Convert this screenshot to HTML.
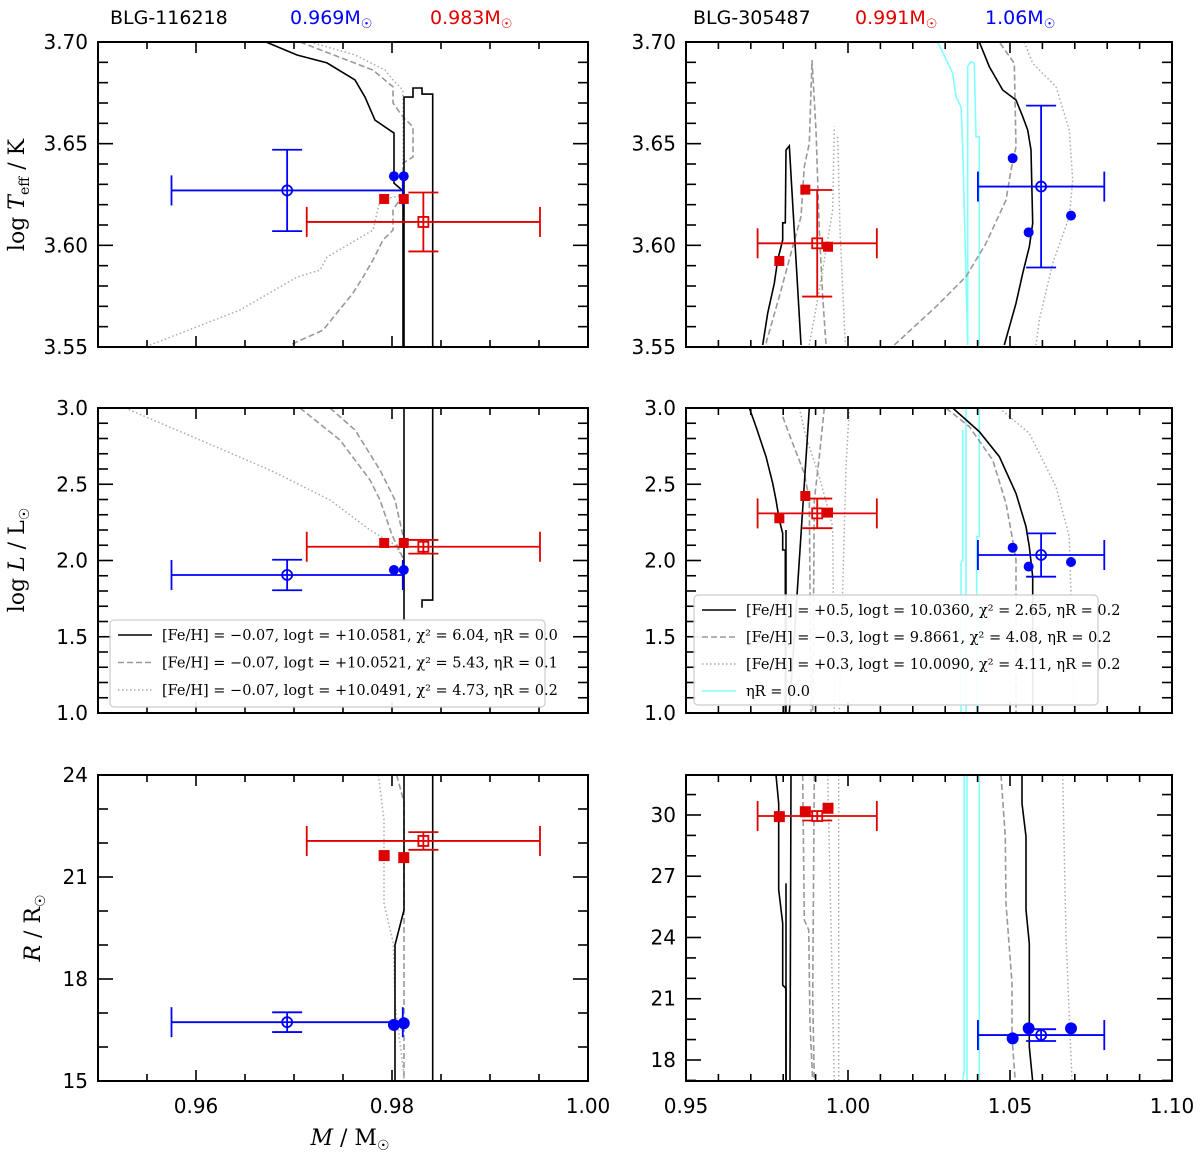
<!DOCTYPE html>
<html><head><meta charset="utf-8"><style>
body{margin:0;background:#fff;}
svg{display:block;}
text{font-family:"DejaVu Sans","Liberation Sans",sans-serif;}
.serif{font-family:"DejaVu Serif","Liberation Serif",serif;}
</style></head><body>
<svg id="fig" width="1200" height="1155" viewBox="0 0 1200 1155" xmlns="http://www.w3.org/2000/svg">
<g>
<text x="110" y="24" font-size="19" fill="#000">BLG-116218</text>
<text x="290" y="24" font-size="19" fill="#0000ff">0.969M<tspan font-size="13" dy="4">☉</tspan></text>
<text x="430" y="24" font-size="19" fill="#e00000">0.983M<tspan font-size="13" dy="4">☉</tspan></text>
<text x="693" y="24" font-size="19" fill="#000">BLG-305487</text>
<text x="855" y="24" font-size="19" fill="#e00000">0.991M<tspan font-size="13" dy="4">☉</tspan></text>
<text x="985" y="24" font-size="19" fill="#0000ff">1.06M<tspan font-size="13" dy="4">☉</tspan></text>
</g>
<g class="serif">
<text class="serif" transform="translate(24,195) rotate(-90)" text-anchor="middle" font-size="22">log <tspan font-style="italic">T</tspan><tspan font-size="14" dy="5">eff</tspan><tspan dy="-5"> / K</tspan></text>
<text class="serif" transform="translate(24,560) rotate(-90)" text-anchor="middle" font-size="22">log <tspan font-style="italic">L</tspan> /  L<tspan font-size="14" dy="5">☉</tspan></text>
<text class="serif" transform="translate(40,928) rotate(-90)" text-anchor="middle" font-size="22"><tspan font-style="italic">R</tspan> /  R<tspan font-size="14" dy="5">☉</tspan></text>
<text class="serif" x="350" y="1145" text-anchor="middle" font-size="22"><tspan font-style="italic">M</tspan> / M<tspan font-size="14" dy="5">☉</tspan></text>
</g>
</svg>
<script>
// ===== Data (mass in Msun; values in axis units) =====
const tlSolid1=[[0.96714,3.700],[0.97031,3.6936],[0.97337,3.6897],[0.97622,3.6813],[0.97724,3.6729],[0.97827,3.6616],[0.98020,3.6552],[0.98020,3.6306],[0.98112,3.6267],[0.98112,3.55]];
const tlSolid2=[[0.98122,3.55],[0.98122,3.6729],[0.98214,3.6729],[0.98214,3.6774],[0.98306,3.6774],[0.98306,3.6744],[0.98415,3.6744],[0.98415,3.55]];
const tlDash=[[0.97061,3.70],[0.97806,3.6862],[0.98010,3.6779],[0.98010,3.67],[0.98112,3.6631],[0.98214,3.6582],[0.98214,3.6434],[0.98112,3.6405],[0.98112,3.625],[0.98010,3.6174],[0.98010,3.6075],[0.97908,3.6026],[0.97806,3.5928],[0.97704,3.5844],[0.97602,3.5765],[0.97296,3.5583],[0.96959,3.551]];
const tlDot=[[0.97163,3.70],[0.97622,3.6936],[0.97929,3.6862],[0.98010,3.6813],[0.98112,3.6764],[0.98112,3.6247],[0.97878,3.6223],[0.97806,3.6075],[0.97337,3.5942],[0.97265,3.5878],[0.97031,3.5844],[0.96449,3.5682],[0.95531,3.551]];
const tlBlueObs=[0.9693,0.0118,3.627,0.020];
const tlRedObs=[0.9832,0.0119,3.6115,0.0145];
const tlBlueDots=[[0.9802,3.634],[0.9812,3.634]];
const tlRedSquares=[[0.9792,3.6228],[0.9812,3.6228]];

const mlSolid1=[[0.98122,3.0],[0.98122,1.60]];
const mlSolid2=[[0.98415,3.0],[0.98415,1.74],[0.98306,1.74],[0.98306,1.69]];
const mlDash1=[[0.97061,3.0],[0.97469,2.79],[0.97776,2.528],[0.97878,2.397],[0.98,2.167],[0.98122,2.003]];
const mlDash2=[[0.97367,3.0],[0.97622,2.856],[0.97878,2.593],[0.98031,2.397],[0.98122,2.134]];
const mlDot=[[0.95276,3.0],[0.96041,2.79],[0.96755,2.593],[0.97367,2.397],[0.97776,2.2],[0.98031,2.102],[0.98122,2.003]];
const mlBlueObs=[0.9693,0.0118,1.905,0.10];
const mlRedObs=[0.9832,0.0119,2.09,0.045];
const mlBlueDots=[[0.9802,1.938],[0.9812,1.938]];
const mlRedSquares=[[0.9792,2.115],[0.9812,2.115]];

const blSolid1=[[0.98415,15],[0.98415,24]];
const blSolid2=[[0.98122,24],[0.98122,20.03],[0.98031,19.0],[0.98031,15]];
const blDash=[[0.98048,24],[0.98122,23.2],[0.98122,15]];
const blDot=[[0.97861,24],[0.97918,22.68],[0.97918,20.22],[0.98013,19.05],[0.98031,17.29],[0.98116,15.32],[0.98122,15]];
const blBlueObs=[0.9693,0.0118,16.73,0.29];
const blRedObs=[0.9832,0.0119,22.06,0.26];
const blBlueDots=[[0.9802,16.65],[0.9812,16.70]];
const blRedSquares=[[0.9792,21.63],[0.9812,21.57]];

const trSolid1=[[0.97366,3.551],[0.97521,3.5666],[0.97726,3.5813],[0.97829,3.5928],[0.97984,3.6026],[0.97984,3.6111],[0.98066,3.6111],[0.98086,3.6469],[0.98189,3.6489],[0.98549,3.551]];
const trSolid2=[[1.04053,3.70],[1.04362,3.6879],[1.04774,3.6764],[1.05185,3.6715],[1.05391,3.6633],[1.05545,3.6567],[1.05648,3.6469],[1.05700,3.6108],[1.05597,3.5993],[1.05391,3.5862],[1.05185,3.5715],[1.04825,3.551]];
const trDash1=[[0.97469,3.5518],[0.97881,3.5748],[0.98292,3.5993],[0.98549,3.6141],[0.98652,3.6387],[0.98807,3.6502],[0.98889,3.6911],[0.99012,3.6567],[0.99115,3.6075],[0.99218,3.5748],[0.99321,3.551]];
const trDash2=[[1.0143,3.551],[1.02716,3.5698],[1.03642,3.5846],[1.04259,3.601],[1.04877,3.6223],[1.05031,3.637],[1.05185,3.6485],[1.05134,3.6895],[1.04671,3.70]];
const trDot1=[[0.98807,3.551],[0.99115,3.578],[0.99527,3.6174],[0.99578,3.6584]];
const trDot2=[[0.99681,3.6534],[0.99753,3.6075],[0.99918,3.551]];
const trDot3=[[1.05442,3.70],[1.05700,3.6895],[1.0642,3.678],[1.06831,3.6567],[1.06934,3.6321],[1.06831,3.6141],[1.06317,3.5911],[1.05905,3.5633],[1.05802,3.551]];
const trCyan1=[[1.02767,3.70],[1.0323,3.6846],[1.03333,3.6731],[1.03488,3.6682],[1.03539,3.6485],[1.03642,3.5846],[1.03693,3.551]];
const trCyan2=[[1.03693,3.551],[1.03693,3.6879],[1.03796,3.6903],[1.03899,3.6895],[1.0395,3.6534],[1.04053,3.6534],[1.04053,3.551]];
const trBlueObs=[1.0596,0.0195,3.6289,0.0398];
const trRedObs=[0.9905,0.0184,3.601,0.0262];
const trBlueDots=[[1.05082,3.6428],[1.05576,3.6064],[1.06883,3.6146]];
const trRedSquares=[[0.97881,3.5923],[0.98683,3.6274],[0.99383,3.5993]];

const mrSolid1=[[0.96955,3.0],[0.9716,2.878],[0.97469,2.681],[0.97675,2.506],[0.97778,2.397],[0.97881,2.266],[0.97984,2.178],[0.97984,2.069],[0.98066,2.069],[0.98066,1.0]];
const mrSolid2=[[0.98807,3.0],[0.98189,1.0]];
const mrSolid3=[[0.98086,2.20],[0.98086,1.0]];
const mrSolid4=[[1.0323,3.0],[1.04053,2.845],[1.04671,2.681],[1.05185,2.440],[1.05494,2.222],[1.05597,2.091],[1.057,1.894],[1.057,1.0]];
const mrDash1=[[0.97984,2.943],[0.98292,2.768],[0.98652,2.572],[0.98807,2.397],[0.98858,1.0]];
const mrDash2=[[0.9927,3.0],[0.99115,2.68],[0.98961,2.397],[0.98909,1.0]];
const mrDash3=[[1.03025,3.0],[1.03745,2.878],[1.04465,2.659],[1.04877,2.375],[1.05082,2.134],[1.05185,2.003],[1.05185,1.0]];
const mrDot1=[[0.98498,3.0],[0.98704,2.812],[0.99115,2.55],[0.99527,2.222],[0.99578,1.0]];
const mrDot2=[[1.00041,3.0],[0.99938,2.615],[0.99733,1.0]];
const mrDot3=[[1.04671,3.0],[1.05597,2.834],[1.0642,2.484],[1.06831,2.156],[1.06986,1.0]];
const mrCyan1=[[1.03642,3.0],[1.03642,1.0]];
const mrCyan2=[[1.03539,2.856],[1.03539,2.003],[1.03488,1.981],[1.03488,1.0]];
const mrCyan3=[[1.04053,3.0],[1.04053,2.156],[1.03971,2.156],[1.03971,1.0]];
const mrBlueObs=[1.0596,0.0195,2.036,0.142];
const mrRedObs=[0.9905,0.0184,2.309,0.097];
const mrBlueDots=[[1.05082,2.084],[1.05576,1.960],[1.06883,1.990]];
const mrRedSquares=[[0.97881,2.277],[0.98683,2.423],[0.99383,2.314]];

const brSolid1=[[0.97778,31.96],[0.9786,30.57],[0.9786,26.33],[0.97984,24.69],[0.97984,21.67],[0.98086,21.51],[0.98086,16.94]];
const brSolid2=[[0.98086,26.65],[0.98086,16.94]];
const brSolid3=[[0.98241,31.96],[0.9821,16.94]];
const brSolid4=[[1.0537,31.96],[1.0537,30.57],[1.05494,28.94],[1.05494,25.35],[1.05597,23.71],[1.05597,18.65],[1.057,16.94]];
const brDash1=[[0.98601,31.96],[0.98652,24.86],[0.98786,24.37],[0.98827,19.8],[0.98909,16.94]];
const brDash2=[[0.98961,31.96],[0.98909,21.1],[0.98961,16.94]];
const brDash3=[[1.04722,31.96],[1.04856,28.94],[1.04877,25.67],[1.05062,21.76],[1.05062,19.14],[1.05165,16.94]];
const brDot1=[[0.99372,31.96],[0.99475,24.53],[0.99578,16.94]];
const brDot2=[[0.99712,31.96],[0.99712,16.94]];
const brDot3=[[1.06626,31.96],[1.06728,24.04],[1.06914,16.94]];
const brCyan1=[[1.0359,31.96],[1.0359,17.51],[1.03539,16.94]];
const brCyan2=[[1.03673,31.96],[1.03673,16.94]];
const brCyan3=[[1.04053,31.96],[1.04053,16.94]];
const brBlueObs=[1.0596,0.0195,19.22,0.29];
const brRedObs=[0.9905,0.0184,29.95,0.22];
const brBlueDots=[[1.05082,19.06],[1.05576,19.55],[1.06883,19.55]];
const brRedSquares=[[0.97881,29.92],[0.98683,30.16],[0.99383,30.33]];

const leftXTicks=[0.96,0.98,1.00];
const leftXTickLabels=["0.96","0.98","1.00"];
const rightXTicks=[0.95,1.00,1.05,1.10];
const rightXTickLabels=["0.95","1.00","1.05","1.10"];
const teffTicks=[3.55,3.60,3.65,3.70];
const teffTickLabels=["3.55","3.60","3.65","3.70"];
const lumTicks=[1.0,1.5,2.0,2.5,3.0];
const lumTickLabels=["1.0","1.5","2.0","2.5","3.0"];
const radLeftTicks=[15,18,21,24];
const radLeftTickLabels=["15","18","21","24"];
const radRightTicks=[18,21,24,27,30];
const radRightTickLabels=["18","21","24","27","30"];

const leftLegendLabels=["[Fe/H] = \u22120.07, log\u200at = +10.0581, \u03c7\u00b2 = 6.04, \u03b7R = 0.0","[Fe/H] = \u22120.07, log\u200at = +10.0521, \u03c7\u00b2 = 5.43, \u03b7R = 0.1","[Fe/H] = \u22120.07, log\u200at = +10.0491, \u03c7\u00b2 = 4.73, \u03b7R = 0.2"];
const rightLegendLabels=["[Fe/H] = +0.5, log\u200at = 10.0360, \u03c7\u00b2 = 2.65, \u03b7R = 0.2","[Fe/H] = \u22120.3, log\u200at =  9.8661, \u03c7\u00b2 = 4.08, \u03b7R = 0.2","[Fe/H] = +0.3, log\u200at = 10.0090, \u03c7\u00b2 = 4.11, \u03b7R = 0.2","\u03b7R = 0.0"];

// ===== Rendering =====
const NS="http://www.w3.org/2000/svg";
const svg=document.getElementById('fig');
function mk(tag,attrs,parent){const e=document.createElementNS(NS,tag);for(const k in attrs)e.setAttribute(k,attrs[k]);(parent||svg).appendChild(e);return e;}
const STY={
 solid:{stroke:'#000','stroke-width':1.6},
 dash:{stroke:'#999','stroke-width':1.6,'stroke-dasharray':'6,3'},
 dot:{stroke:'#aaa','stroke-width':1.5,'stroke-dasharray':'1.5,2.5'},
 cyan:{stroke:'#80ffff','stroke-width':1.6}
};
let clipN=0;
function panel(name,box,xd,yd,opts){
 const g=mk('g',{});
 
 
 const X=v=>box.x0+(v-xd[0])/(xd[1]-xd[0])*(box.x1-box.x0);
 const Y=v=>box.y1-(v-yd[0])/(yd[1]-yd[0])*(box.y1-box.y0);
 const cid='clip'+(clipN++);
 const cp=mk('clipPath',{id:cid},g);
 mk('rect',{x:box.x0,y:box.y0,width:box.x1-box.x0,height:box.y1-box.y0},cp);
 const plot=mk('g',{'clip-path':'url(#'+cid+')'},g);
 
 
 // tracks
 opts.tracks.forEach(t=>{
  const p=mk('polyline',Object.assign({points:t.d.map(q=>X(q[0]).toFixed(1)+','+Y(q[1]).toFixed(1)).join(' '),fill:'none'},STY[t.s]),plot);
  
  
 });
 // observation error bars
 function obs(o,col,shape,label){
  const og=mk('g',{stroke:col,'stroke-width':1.8,fill:'none'},plot);
  
  
  const cx=X(o[0]),cy=Y(o[2]),xl=X(o[0]-o[1]),xr=X(o[0]+o[1]),yt=Y(o[2]+o[3]),yb=Y(o[2]-o[3]);
  mk('line',{x1:xl,y1:cy,x2:xr,y2:cy},og);
  mk('line',{x1:cx,y1:yt,x2:cx,y2:yb},og);
  mk('line',{x1:xl,y1:cy-15,x2:xl,y2:cy+15},og);
  mk('line',{x1:xr,y1:cy-15,x2:xr,y2:cy+15},og);
  mk('line',{x1:cx-15,y1:yt,x2:cx+15,y2:yt},og);
  mk('line',{x1:cx-15,y1:yb,x2:cx+15,y2:yb},og);
  if(shape==='circle'){mk('circle',{cx:cx,cy:cy,r:5,fill:'#fff'},og);}
  else{mk('rect',{x:cx-5,y:cy-5,width:10,height:10,fill:'#fff'},og);}
  mk('line',{x1:cx-5,y1:cy,x2:cx+5,y2:cy},og);
  mk('line',{x1:cx,y1:cy-5,x2:cx,y2:cy+5},og);
 }
 obs(opts.blueObs,'#0000ff','circle','blue-observation');
 obs(opts.redObs,'#e00000','square','red-observation');
 const ms=opts.big?11:10, mr=opts.big?6:5;
 opts.redSq.forEach(p=>{
  const r=mk('rect',{x:X(p[0])-ms/2,y:Y(p[1])-ms/2,width:ms,height:ms,fill:'#dd0000'},plot);
  
  
 });
 opts.blueDots.forEach(p=>{
  const c=mk('circle',{cx:X(p[0]),cy:Y(p[1]),r:mr,fill:'#0000ff'},plot);
  
  
 });
 // ticks
 const tg=mk('g',{stroke:'#000','stroke-width':1.6},g);
 
 
 const eps=1e-9;
 for(let v=Math.ceil(xd[0]/opts.xMinor-eps)*opts.xMinor;v<=xd[1]+eps;v+=opts.xMinor){
  const isMaj=Math.abs(v/opts.xMajor-Math.round(v/opts.xMajor))<1e-6;const L=isMaj?11:7;const x=X(v);
  mk('line',{x1:x,y1:box.y1,x2:x,y2:box.y1-L},tg);mk('line',{x1:x,y1:box.y0,x2:x,y2:box.y0+L},tg);
 }
 for(let v=Math.ceil(yd[0]/opts.yMinor-eps)*opts.yMinor;v<=yd[1]+eps;v+=opts.yMinor){
  const isMaj=Math.abs(v/opts.yMajor-Math.round(v/opts.yMajor))<1e-6;const L=isMaj?15:10;const y=Y(v);
  mk('line',{x1:box.x0,y1:y,x2:box.x0+L,y2:y},tg);mk('line',{x1:box.x1,y1:y,x2:box.x1-L,y2:y},tg);
 }
 // frame
 const fr=mk('rect',{x:box.x0,y:box.y0,width:box.x1-box.x0,height:box.y1-box.y0,fill:'none',stroke:'#000','stroke-width':2},g);
 
 
 // tick labels
 opts.yTicks.forEach((v,i)=>{
  const t=mk('text',{x:box.x0-10,y:Y(v)+7,'text-anchor':'end','font-size':20},g);
  t.textContent=opts.yLabels[i];
  
  
 });
 if(opts.xTicks){opts.xTicks.forEach((v,i)=>{
  const t=mk('text',{x:X(v),y:box.y1+32,'text-anchor':'middle','font-size':20},g);
  t.textContent=opts.xLabels[i];
  
  
 });}
 // legend
 if(opts.legend){
  const L=opts.legend;
  const lg=mk('g',{},g);
  
  
  mk('rect',{x:L.x,y:L.y,width:L.w,height:L.h,rx:4,fill:'#fff','fill-opacity':0.92,stroke:'#ccc','stroke-width':1.2},lg);
  L.labels.forEach((s,i)=>{
   const yy=L.y+15+i*L.step;
   const ln=mk('line',Object.assign({x1:L.x+8,y1:yy,x2:L.x+42,y2:yy},STY[L.styles[i]]),lg);
   
   
   const t=mk('text',{x:L.x+52,y:yy+5,'font-size':14.5,'class':'serif'},lg);
   t.textContent=s;
   
   
  });
 }
}
const LB={x0:98,x1:588}, RB={x0:686,x1:1172};
const R1={y0:42,y1:347},R2={y0:408,y1:713},R3={y0:775,y1:1081};
panel('panel-top-left',{...LB,...R1},[0.95,1.00],[3.55,3.70],{tracks:[{d:tlDot,s:'dot'},{d:tlDash,s:'dash'},{d:tlSolid1,s:'solid'},{d:tlSolid2,s:'solid'}],blueObs:tlBlueObs,redObs:tlRedObs,blueDots:tlBlueDots,redSq:tlRedSquares,xMinor:0.005,xMajor:0.02,yMinor:0.01,yMajor:0.05,yTicks:teffTicks,yLabels:teffTickLabels});
panel('panel-mid-left',{...LB,...R2},[0.95,1.00],[1.0,3.0],{tracks:[{d:mlDot,s:'dot'},{d:mlDash1,s:'dash'},{d:mlDash2,s:'dash'},{d:mlSolid1,s:'solid'},{d:mlSolid2,s:'solid'}],blueObs:mlBlueObs,redObs:mlRedObs,blueDots:mlBlueDots,redSq:mlRedSquares,xMinor:0.005,xMajor:0.02,yMinor:0.1,yMajor:0.5,yTicks:lumTicks,yLabels:lumTickLabels,legend:{x:110,y:620,w:435,h:87,step:27.5,labels:leftLegendLabels,styles:['solid','dash','dot']}});
panel('panel-bottom-left',{...LB,...R3},[0.95,1.00],[15,24],{tracks:[{d:blDot,s:'dot'},{d:blDash,s:'dash'},{d:blSolid1,s:'solid'},{d:blSolid2,s:'solid'}],blueObs:blBlueObs,redObs:blRedObs,blueDots:blBlueDots,redSq:blRedSquares,big:true,xMinor:0.005,xMajor:0.02,yMinor:1,yMajor:3,yTicks:radLeftTicks,yLabels:radLeftTickLabels,xTicks:leftXTicks,xLabels:leftXTickLabels});
panel('panel-top-right',{...RB,...R1},[0.95,1.10],[3.55,3.70],{tracks:[{d:trCyan1,s:'cyan'},{d:trCyan2,s:'cyan'},{d:trDot1,s:'dot'},{d:trDot2,s:'dot'},{d:trDot3,s:'dot'},{d:trDash1,s:'dash'},{d:trDash2,s:'dash'},{d:trSolid1,s:'solid'},{d:trSolid2,s:'solid'}],blueObs:trBlueObs,redObs:trRedObs,blueDots:trBlueDots,redSq:trRedSquares,xMinor:0.01,xMajor:0.05,yMinor:0.01,yMajor:0.05,yTicks:teffTicks,yLabels:teffTickLabels});
panel('panel-mid-right',{...RB,...R2},[0.95,1.10],[1.0,3.0],{tracks:[{d:mrCyan1,s:'cyan'},{d:mrCyan2,s:'cyan'},{d:mrCyan3,s:'cyan'},{d:mrDot1,s:'dot'},{d:mrDot2,s:'dot'},{d:mrDot3,s:'dot'},{d:mrDash1,s:'dash'},{d:mrDash2,s:'dash'},{d:mrDash3,s:'dash'},{d:mrSolid1,s:'solid'},{d:mrSolid2,s:'solid'},{d:mrSolid3,s:'solid'},{d:mrSolid4,s:'solid'}],blueObs:mrBlueObs,redObs:mrRedObs,blueDots:mrBlueDots,redSq:mrRedSquares,xMinor:0.01,xMajor:0.05,yMinor:0.1,yMajor:0.5,yTicks:lumTicks,yLabels:lumTickLabels,legend:{x:694,y:595,w:404,h:110,step:27,labels:rightLegendLabels,styles:['solid','dash','dot','cyan']}});
panel('panel-bottom-right',{...RB,...R3},[0.95,1.10],[16.971,31.959],{tracks:[{d:brCyan1,s:'cyan'},{d:brCyan2,s:'cyan'},{d:brCyan3,s:'cyan'},{d:brDot1,s:'dot'},{d:brDot2,s:'dot'},{d:brDot3,s:'dot'},{d:brDash1,s:'dash'},{d:brDash2,s:'dash'},{d:brDash3,s:'dash'},{d:brSolid1,s:'solid'},{d:brSolid2,s:'solid'},{d:brSolid3,s:'solid'},{d:brSolid4,s:'solid'}],blueObs:brBlueObs,redObs:brRedObs,blueDots:brBlueDots,redSq:brRedSquares,big:true,xMinor:0.01,xMajor:0.05,yMinor:1,yMajor:3,yTicks:radRightTicks,yLabels:radRightTickLabels,xTicks:rightXTicks,xLabels:rightXTickLabels});
</script>
</body></html>
